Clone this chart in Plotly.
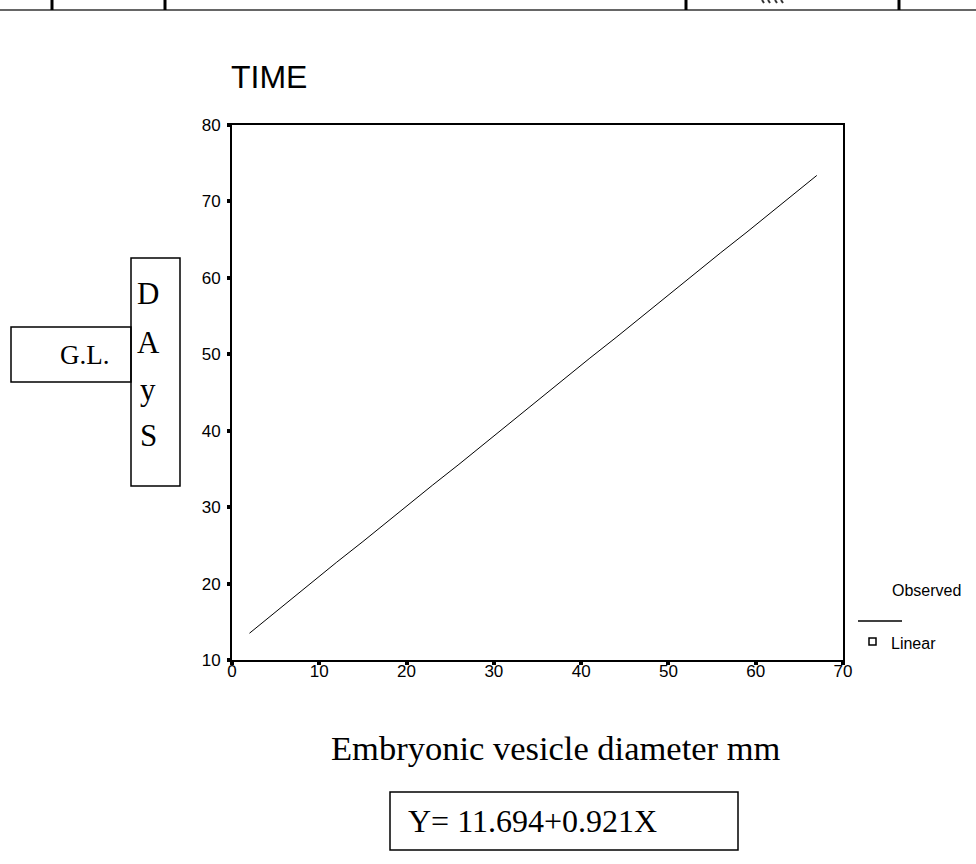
import plotly.graph_objects as go

diameter_mm = [2, 5, 8, 10, 12, 15, 18, 20, 23, 26, 29, 32, 35, 38, 41, 44, 47, 50, 53, 56, 59, 62, 65, 67]
days = [13.5, 16.3, 19.1, 20.9, 22.8, 25.5, 28.3, 30.1, 32.9, 35.6, 38.4, 41.2, 43.9, 46.7,
        49.5, 52.2, 55.0, 57.8, 60.5, 63.3, 66.0, 68.8, 71.6, 73.4]

x_ticks = [0, 10, 20, 30, 40, 50, 60, 70]
y_ticks = [10, 20, 30, 40, 50, 60, 70, 80]

W, H = 976, 864
L, R, T, B = 232, 843, 125, 660  # plot area in page pixels


def px(x):
    return (x - L) / (R - L)


def py(y):
    return (B - y) / (B - T)


fig = go.Figure()
fig.add_trace(go.Scatter(x=diameter_mm, y=days, mode="lines",
                         line=dict(color="black", width=1), showlegend=False,
                         name="Observed"))

axis_common = dict(showline=True, linecolor="black", linewidth=2, mirror=True,
                   showgrid=False, zeroline=False, ticks="outside", ticklen=3,
                   tickwidth=4, tickcolor="black",
                   tickfont=dict(family="Liberation Sans, Arial", size=17, color="black"))

fig.update_xaxes(range=[0, 70], tickvals=x_ticks, ticktext=[str(v) for v in x_ticks],
                 ticklabelstandoff=-8, **axis_common)
fig.update_yaxes(range=[10, 80], tickvals=y_ticks, ticktext=[str(v) for v in y_ticks],
                 ticklabelstandoff=3, **axis_common)

shapes = []
# top table fragment
shapes.append(dict(type="line", xref="paper", yref="paper", x0=px(-20), x1=px(1000),
                   y0=py(10), y1=py(10), line=dict(color="#666666", width=2)))
for xv in [52, 165, 686, 899]:
    shapes.append(dict(type="line", xref="paper", yref="paper", x0=px(xv), x1=px(xv),
                       y0=py(-10), y1=py(10), line=dict(color="black", width=3)))
for xv in [762, 768, 775, 781]:
    shapes.append(dict(type="line", xref="paper", yref="paper", x0=px(xv), x1=px(xv + 2),
                       y0=py(0), y1=py(3), line=dict(color="#333333", width=2)))
# DAYS box and G.L. box
shapes.append(dict(type="rect", xref="paper", yref="paper", x0=px(131), x1=px(180),
                   y0=py(486), y1=py(258), line=dict(color="black", width=1.5)))
shapes.append(dict(type="rect", xref="paper", yref="paper", x0=px(11), x1=px(131),
                   y0=py(382), y1=py(327), line=dict(color="black", width=1.5)))
# equation box
shapes.append(dict(type="rect", xref="paper", yref="paper", x0=px(390), x1=px(738),
                   y0=py(850), y1=py(792), line=dict(color="black", width=1.5)))
# legend line and marker
shapes.append(dict(type="line", xref="paper", yref="paper", x0=px(858), x1=px(902),
                   y0=py(621), y1=py(621), line=dict(color="black", width=1.5)))
shapes.append(dict(type="rect", xref="paper", yref="paper", x0=px(869), x1=px(876),
                   y0=py(645), y1=py(638), line=dict(color="black", width=1.5)))

annotations = []


def txt(text, x, y, size, family, xanchor="center", yanchor="middle"):
    annotations.append(dict(text=text, x=px(x), y=py(y), xref="paper", yref="paper",
                            showarrow=False, xanchor=xanchor, yanchor=yanchor,
                            font=dict(family=family, size=size, color="black")))


sans = "Liberation Sans, Arial"
serif = "Liberation Serif, Times New Roman"
txt("TIME", 229, 77, 32, sans, xanchor="left")
txt("Embryonic vesicle diameter mm", 555, 748, 34.5, serif)
txt("Y= 11.694+0.921X", 406, 821, 32, serif, xanchor="left")
txt("G.L.", 85, 355, 27, serif)
for letter, yy in zip(["D", "A", "y", "S"], [293, 342, 389, 435]):
    txt(letter, 148, yy, 31, serif)
txt("Observed", 890, 590, 16, sans, xanchor="left")
txt("Linear", 889, 643, 16, sans, xanchor="left")

fig.update_layout(width=W, height=H,
                  margin=dict(l=L, r=W - R, t=T, b=H - B, pad=0),
                  plot_bgcolor="white", paper_bgcolor="white",
                  shapes=shapes, annotations=annotations, showlegend=False)

fig.write_html("out.html", config={"displayModeBar": False},
               post_script="document.body.style.margin='0px';document.body.style.overflow='hidden';")
